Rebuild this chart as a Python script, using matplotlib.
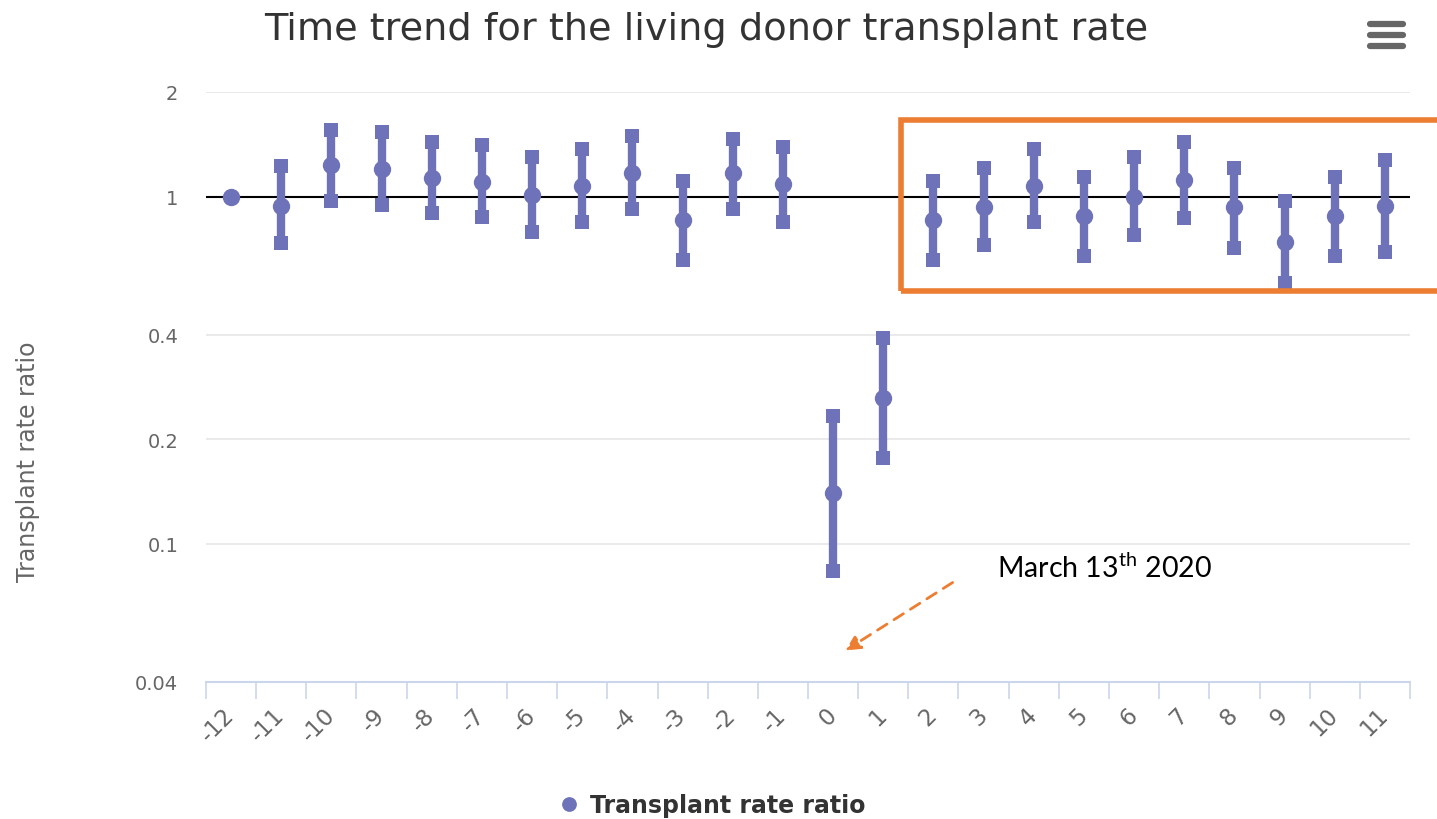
import numpy as np
import matplotlib.pyplot as plt
from matplotlib.patches import Rectangle
from matplotlib.lines import Line2D

# months relative to March 2020
months = list(range(-12, 12))
month_labels = [str(m) for m in months]

# transplant rate ratio and 95% CI
ratio = [1.0, 0.940, 1.232, 1.200, 1.133, 1.101, 1.012, 1.071, 1.169, 0.855, 1.169, 1.086,
         0.140, 0.263, 0.856, 0.930, 1.072, 0.879, 0.999, 1.118, 0.930, 0.740, 0.879, 0.942]
ci_low = [np.nan, 0.735, 0.973, 0.948, 0.896, 0.873, 0.789, 0.846, 0.922, 0.657, 0.922, 0.846,
          0.0835, 0.177, 0.657, 0.725, 0.845, 0.674, 0.775, 0.870, 0.712, 0.563, 0.674, 0.694]
ci_high = [np.nan, 1.224, 1.558, 1.533, 1.431, 1.410, 1.296, 1.374, 1.492, 1.106, 1.469, 1.388,
           0.233, 0.391, 1.108, 1.208, 1.370, 1.140, 1.296, 1.431, 1.208, 0.973, 1.140, 1.276]

y_ticks = [0.04, 0.1, 0.2, 0.4, 1, 2]
y_tick_labels = ["0.04", "0.1", "0.2", "0.4", "1", "2"]

PURPLE = "#6E72B8"
ORANGE = "#ED7D31"
GREY = "#666666"

plt.rcParams["font.family"] = ["DejaVu Sans"]
plt.rcParams["mathtext.fontset"] = "custom"
plt.rcParams["mathtext.rm"] = "Lato"

W, H = 1437, 820
fig = plt.figure(figsize=(W / 100, H / 100), dpi=100)
ax = fig.add_axes([206 / W, 1 - 683 / H, 1204 / W, 590 / H])

x = np.array(months)
ax.vlines(x, ci_low, ci_high, color=PURPLE, lw=6, zorder=3)
ax.plot(x, ci_low, "s", color=PURPLE, ms=9.5, mew=0, zorder=3)
ax.plot(x, ci_high, "s", color=PURPLE, ms=9.5, mew=0, zorder=3)
ax.plot(x, ratio, "o", color=PURPLE, ms=12.5, mew=0, zorder=4, label="Transplant rate ratio")

# reference line at ratio = 1
ax.axhline(1, color="black", lw=1.5, zorder=2)

ax.set_yscale("log")
ax.set_ylim(0.04, 2)
ax.set_xlim(-12.5, 11.5)
ax.set_yticks(y_ticks)
ax.set_yticklabels(y_tick_labels)
ax.yaxis.set_minor_locator(plt.NullLocator())
ax.tick_params(axis="y", length=0, pad=20, labelsize=14, labelcolor=GREY)
ax.grid(axis="y", color="#e6e6e6", lw=1.2, zorder=0)

ax.set_xticks(x)
ax.set_xticklabels(month_labels, rotation=45, ha="right", va="center", rotation_mode="anchor")
ax.set_xticks(np.arange(-12.5, 12, 1), minor=True)
ax.tick_params(axis="x", which="major", length=0, pad=21, labelsize=16.5, labelcolor=GREY)
ax.tick_params(axis="x", which="minor", length=12, width=1.2, color="#ccd6eb")

for side in ["top", "right", "left"]:
    ax.spines[side].set_visible(False)
ax.spines["bottom"].set_color("#ccd6eb")
ax.spines["bottom"].set_linewidth(1.5)

fig.text(706 / W, 1 - 30 / H, "Time trend for the living donor transplant rate",
         ha="center", va="center", fontsize=27.5, color="#333333")
fig.text(28 / W, 1 - 462 / H, "Transplant rate ratio", rotation=90,
         ha="center", va="center", fontsize=17, color=GREY)

# highlight box for the months after the drop
fig.patches.append(Rectangle((901 / W, 1 - 292 / H), 560 / W, 171 / H, transform=fig.transFigure,
                             fill=False, edgecolor=ORANGE, lw=4))

fig.text(997 / W, 1 - 568 / H, r"March 13$^{\rm th}$ 2020", ha="left", va="center",
         fontsize=20.5, color="black", family="Lato")
fig.add_artist(plt.Annotation("", xy=(843 / W, 1 - 653 / H), xytext=(955 / W, 1 - 582 / H),
                              xycoords="figure fraction", textcoords="figure fraction",
                              arrowprops=dict(arrowstyle="-|>", color=ORANGE, lw=2,
                                              linestyle=(0, (4, 3)), mutation_scale=22)))

# menu icon
for yy in [25, 36, 47]:
    fig.add_artist(Line2D([1370 / W, 1403 / W], [1 - yy / H, 1 - yy / H], transform=fig.transFigure,
                          color=GREY, lw=4.5, solid_capstyle="round"))

fig.legend(loc="center", bbox_to_anchor=(711 / W, 1 - 806 / H), frameon=False,
           prop={"weight": "bold", "size": 17}, labelcolor="#333333", handletextpad=0.4,
           handlelength=1.0, markerscale=0.85)

fig.savefig("out.png", dpi=100)
